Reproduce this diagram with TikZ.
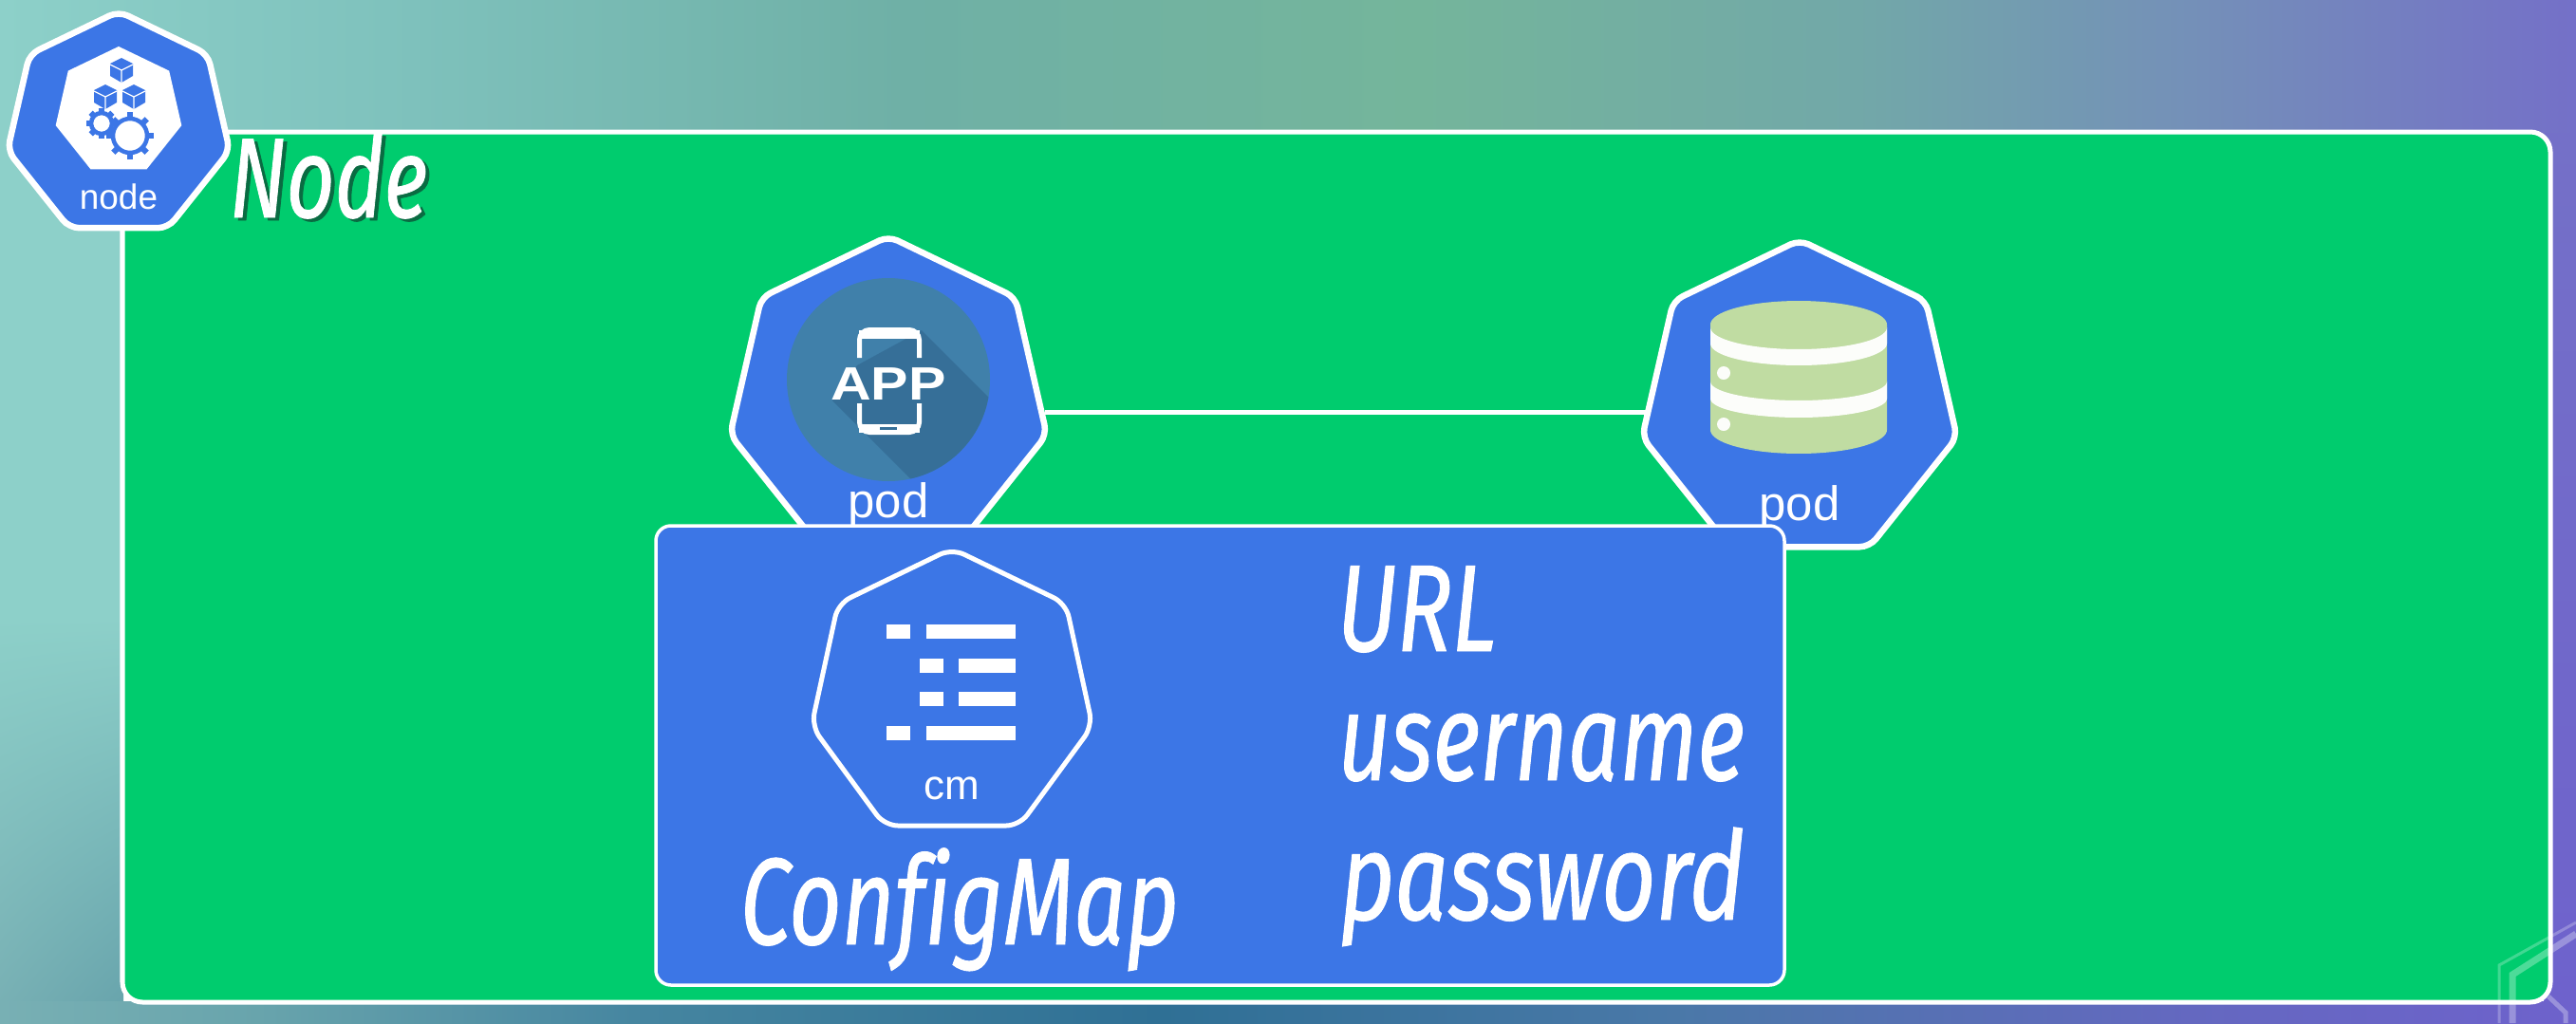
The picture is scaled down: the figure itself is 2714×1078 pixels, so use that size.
\documentclass[tikz,border=0pt]{standalone}
\usepackage{fontspec}
\usetikzlibrary{shapes.geometric, shadings}
\newfontfamily\dinfont[FakeStretch=0.74, FakeBold=0.7, Ligatures=NoCommon]{Fira Sans}
\newfontfamily\iconfont{Liberation Sans}
\newfontfamily\appfont[FakeStretch=1.2]{Liberation Sans}
\definecolor{kubeblue}{HTML}{3C76E6}
\definecolor{nodegreen}{HTML}{00CC6E}
\definecolor{dbgreen}{HTML}{C0DCA2}
\definecolor{appround}{HTML}{4080AA}
\definecolor{appshade}{HTML}{366F98}
\definecolor{titleshade}{HTML}{0A6B42}
\definecolor{backleft}{HTML}{8DD0C9}
\definecolor{backlow}{HTML}{78B0B4}
\definecolor{backlowb}{HTML}{68A4AC}
\definecolor{backright}{HTML}{7470C8}
\definecolor{backlowr}{HTML}{6E62CC}
\pgfdeclarehorizontalshading{topback}{100bp}{rgb(0bp)=(0.553,0.816,0.788); rgb(25bp)=(0.553,0.816,0.788); rgb(32.5bp)=(0.498,0.761,0.741); rgb(42.5bp)=(0.435,0.690,0.651); rgb(52.5bp)=(0.455,0.710,0.608); rgb(61bp)=(0.447,0.659,0.659); rgb(67.5bp)=(0.455,0.565,0.722); rgb(75bp)=(0.455,0.439,0.784); rgb(100bp)=(0.455,0.439,0.784)}
\pgfdeclarehorizontalshading{lowback}{100bp}{rgb(0bp)=(0.471,0.690,0.706); rgb(25bp)=(0.471,0.690,0.706); rgb(30bp)=(0.408,0.643,0.675); rgb(37.5bp)=(0.271,0.522,0.627); rgb(47.5bp)=(0.184,0.439,0.584); rgb(57.5bp)=(0.290,0.471,0.659); rgb(67.5bp)=(0.392,0.408,0.753); rgb(75bp)=(0.431,0.384,0.800); rgb(100bp)=(0.431,0.384,0.800)}
\tikzset{
  heptagon/.style={regular polygon, regular polygon sides=7, draw=white, fill=kubeblue, line width=0.065cm, rounded corners=3pt, inner sep=0pt},
  bigtext/.style={anchor=base west, inner sep=0pt, text=white, font=\dinfont\itshape\fontsize{37}{37}\selectfont},
  icontext/.style={anchor=base, inner sep=0pt, text=white, font=\iconfont\fontsize{14.5}{15}\selectfont},
}
% small icons of the node badge
\newcommand{\cubeicon}[2]{
  \fill[kubeblue] (#1,#2-13) -- (#1+12,#2-7) -- (#1+12,#2+6) -- (#1,#2+13) -- (#1-12,#2+6) -- (#1-12,#2-7) -- cycle;
  \draw[white, line width=0.012cm] (#1-12,#2-6) -- (#1,#2) -- (#1+12,#2-6) (#1,#2) -- (#1,#2+13);
}
\newcommand{\gearicon}[4]{
  \foreach \a in {0,45,...,315}
    \draw[kubeblue, line width=0.06cm] ({#1+#3*cos(\a)},{#2+#3*sin(\a)}) -- ({#1+#4*cos(\a)},{#2+#4*sin(\a)});
  \draw[kubeblue, fill=white, line width=0.045cm] (#1,#2) circle (#3);
}
\begin{document}
\begin{tikzpicture}[x=0.01cm, y=-0.01cm]
	\useasboundingbox (0,0) rectangle (2714,1078);
	% 1. background
	\shade[shading=topback] (0,0) rectangle (2714,140);
	\fill[backleft] (0,140) rectangle (130,650);
	\shade[upper left=backleft, upper right=backleft, lower left=backlow, lower right=backlowb] (0,650) rectangle (130,1060);
	\shade[top color=backright, bottom color=backlowr] (2680,140) rectangle (2714,1060);
	\shade[shading=lowback] (0,1055) rectangle (2714,1078);

	% 2. green node area
	\draw[draw=white, fill=nodegreen, line width=0.05cm, rounded corners=6pt] (129,139) rectangle (2687,1056);
	\node[heptagon, minimum size=2.4cm] (nodeBadge) at (125,132) {};
	\node[regular polygon, regular polygon sides=7, fill=white, inner sep=0pt, minimum size=1.36cm] (nodeInner) at (125,117) {};
	\cubeicon{128}{74}
	\cubeicon{111}{102}
	\cubeicon{141}{102}
	\gearicon{107}{130}{11}{16}
	\gearicon{137}{143}{18}{25}
	\node[icontext, font=\iconfont\fontsize{10.5}{11}\selectfont] (nodeLabel) at (125,220) {node};
	\node[bigtext, text=titleshade, font=\dinfont\itshape\fontsize{34}{34}\selectfont] (nodeTitleShade) at (245,232) {Node};
	\node[bigtext, font=\dinfont\itshape\fontsize{34}{34}\selectfont] (nodeTitle) at (241,229) {Node};

	% 3. pods and their link
	\node[heptagon, minimum size=3.42cm] (appPod) at (936,420) {};
	\node[heptagon, minimum size=3.4cm] (dbPod) at (1896,423) {};
	\draw[white, line width=0.05cm] (appPod.-5) -- (appPod.-5 -| dbPod.west);

	% app icon
	\fill[appround] (936,400) circle (107);
	\begin{scope}
		\clip (936,400) circle (107);
		\fill[appshade] (971,348) -- (1050,427) -- (1050,520) -- (975,520) -- (877,422) -- (903,385) -- cycle;
	\end{scope}
	\draw[white, line width=0.05cm, rounded corners=3pt] (905.5,377) -- (905.5,347.5) -- (968.5,347.5) -- (968.5,377);
	\draw[white, line width=0.05cm, rounded corners=3pt] (905.5,425) -- (905.5,455.5) -- (968.5,455.5) -- (968.5,425);
	\fill[white] (905,348) rectangle (969,357);
	\fill[white] (905,447) rectangle (969,456);
	\fill[appshade] (927,450) rectangle (945,453);
	\node[anchor=base, inner sep=0pt, text=white, font=\appfont\bfseries\fontsize{14}{14}\selectfont] (appText) at (936,421) {APP};
	\node[icontext] (appLabel) at (936,545) {pod};

	% database icon
	\fill[dbgreen] plot[domain=180:360, samples=40] ({1895+93*cos(\x)},{342+25*sin(\x)})
		-- plot[domain=0:180, samples=40] ({1895+93*cos(\x)},{453+25*sin(\x)}) -- cycle;
	\foreach \top/\low/\bend in {345/362/23, 402/420/20}
		\fill[white!95!dbgreen] plot[domain=180:0, samples=40] ({1895+93*cos(\x)},{\top+\bend*sin(\x)})
			-- plot[domain=0:180, samples=40] ({1895+93*cos(\x)},{\low+\bend*sin(\x)}) -- cycle;
	\fill[white!95!dbgreen] (1816,393) circle (7);
	\fill[white!95!dbgreen] (1816,447) circle (7);
	\node[icontext] (dbLabel) at (1896,548) {pod};

	% 4. configmap box
	\draw[draw=white, fill=kubeblue, line width=0.035cm, rounded corners=4.5pt] (691,554) rectangle (1880,1038);
	\draw[white, line width=0.05cm, rounded corners=4pt] (1003,578) -- (1123,636) -- (1151,765) -- (1074,870) -- (932,870) -- (855,765) -- (883,636) -- cycle;
	\foreach \y in {658,765} {
		\fill[white] (934,\y) rectangle (959,\y+14.5);
		\fill[white] (976,\y) rectangle (1070,\y+14.5);
	}
	\foreach \y in {694,729} {
		\fill[white] (969,\y) rectangle (994,\y+14.5);
		\fill[white] (1010,\y) rectangle (1070,\y+14.5);
	}
	\node[icontext, font=\iconfont\fontsize{12.5}{13}\selectfont] (cmLabel) at (1003,842) {cm};
	\node[bigtext] (cmTitle) at (779,995) {ConfigMap};
	\node[bigtext] (urlText) at (1408,686) {URL};
	\node[bigtext] (userText) at (1409,822) {username};
	\node[bigtext, xscale=1.035, transform shape] (passText) at (1411,969) {password};

	% 5. watermark in the corner
	\draw[white, opacity=0.25, line width=0.03cm] (2633,1078) -- (2633,1017) -- (2714,972);
	\draw[white, opacity=0.3, line width=0.07cm] (2647,1078) -- (2647,1027) -- (2714,984);
	\draw[white, opacity=0.3, line width=0.05cm] (2685,1050) -- (2703,1067) -- (2703,1078);
\end{tikzpicture}
\end{document}
